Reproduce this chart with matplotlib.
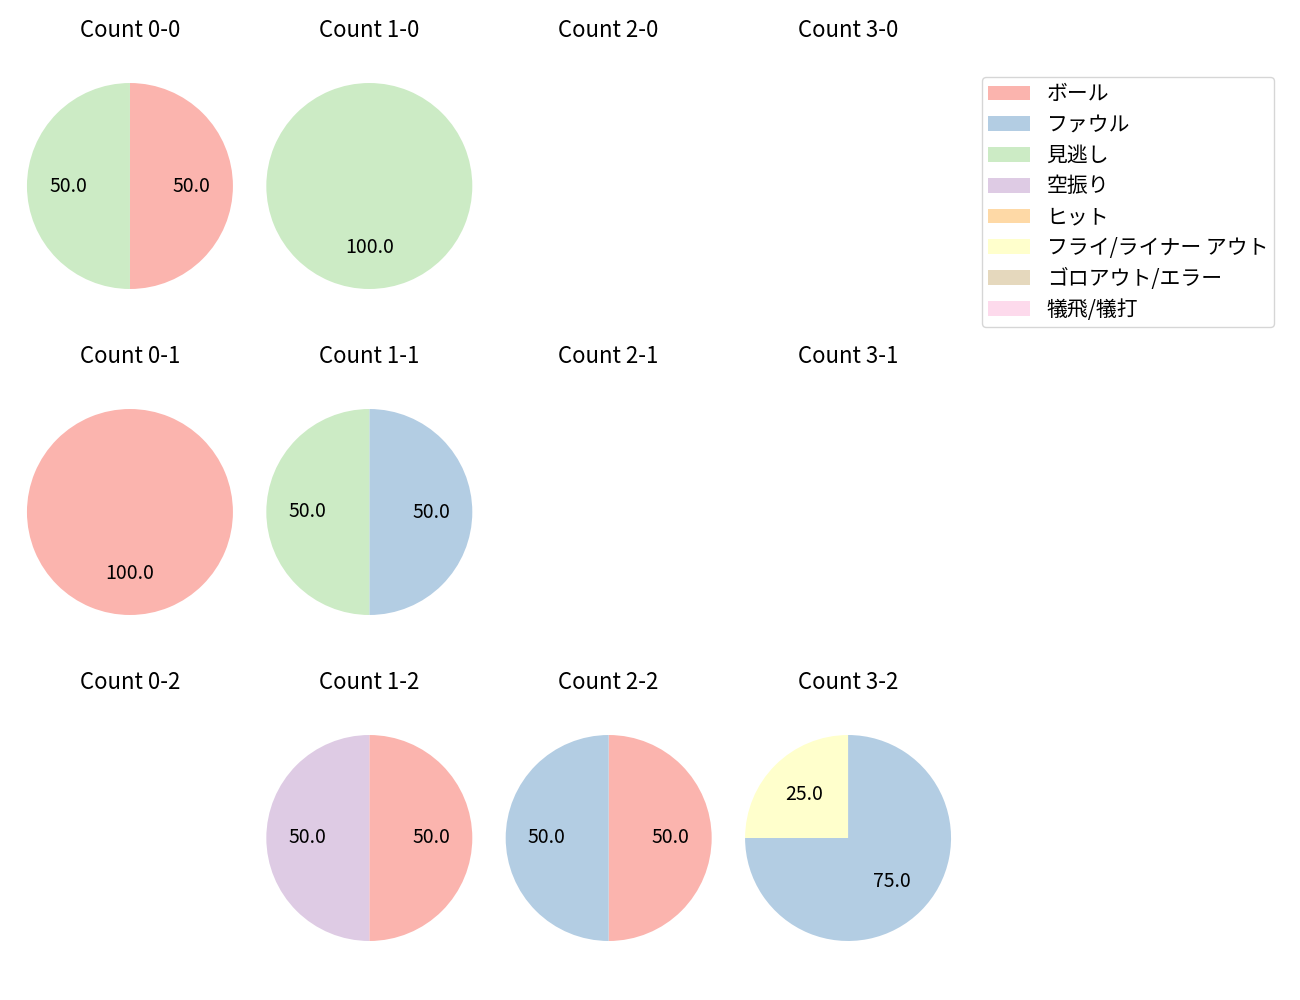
import matplotlib
matplotlib.use("Agg")
import matplotlib.pyplot as plt
from matplotlib.patches import Patch

plt.rcParams['font.family'] = ['Noto Sans CJK JP', 'DejaVu Sans']
plt.rcParams['font.size'] = 14

# result categories (legend order)
labels = ['ボール', 'ファウル', '見逃し', '空振り', 'ヒット',
          'フライ/ライナー アウト', 'ゴロアウト/エラー', '犠飛/犠打']
colors = plt.cm.Pastel1.colors[:8]

balls = [0, 1, 2, 3]
strikes = [0, 1, 2]

# counts per category for each ball-strike count
count_0_0 = [1, 0, 1, 0, 0, 0, 0, 0]
count_1_0 = [0, 0, 1, 0, 0, 0, 0, 0]
count_2_0 = [0, 0, 0, 0, 0, 0, 0, 0]
count_3_0 = [0, 0, 0, 0, 0, 0, 0, 0]
count_0_1 = [1, 0, 0, 0, 0, 0, 0, 0]
count_1_1 = [0, 1, 1, 0, 0, 0, 0, 0]
count_2_1 = [0, 0, 0, 0, 0, 0, 0, 0]
count_3_1 = [0, 0, 0, 0, 0, 0, 0, 0]
count_0_2 = [0, 0, 0, 0, 0, 0, 0, 0]
count_1_2 = [1, 0, 0, 1, 0, 0, 0, 0]
count_2_2 = [1, 1, 0, 0, 0, 0, 0, 0]
count_3_2 = [0, 3, 0, 0, 0, 1, 0, 0]

data = {
    (0, 0): count_0_0, (1, 0): count_1_0, (2, 0): count_2_0, (3, 0): count_3_0,
    (0, 1): count_0_1, (1, 1): count_1_1, (2, 1): count_2_1, (3, 1): count_3_1,
    (0, 2): count_0_2, (1, 2): count_1_2, (2, 2): count_2_2, (3, 2): count_3_2,
}

fig, axes = plt.subplots(3, 4, figsize=(13, 10), dpi=100)
fig.subplots_adjust(left=15/1300, right=963/1300, top=0.955, bottom=0.021,
                    wspace=0.0413, hspace=0.156)

for s in strikes:
    for b in balls:
        ax = axes[s][b]
        vals = data[(b, s)]
        ax.set_title(f'Count {b}-{s}', fontsize=16)
        if sum(vals) == 0:
            ax.axis('off')
            continue
        v = [x for x in vals if x > 0]
        c = [colors[i] for i, x in enumerate(vals) if x > 0]
        ax.pie(v, colors=c, startangle=90, counterclock=False,
               autopct='%.1f', radius=1.12, textprops={'fontsize': 14})
        ax.set_aspect('equal', adjustable='datalim')

handles = [Patch(facecolor=colors[i], label=labels[i]) for i in range(8)]
fig.legend(handles=handles, loc='upper left', bbox_to_anchor=(982/1300, 1-77/1000),
           borderaxespad=0, fontsize=15, labelspacing=0.42, borderpad=0.3)

fig.savefig('out.png')
